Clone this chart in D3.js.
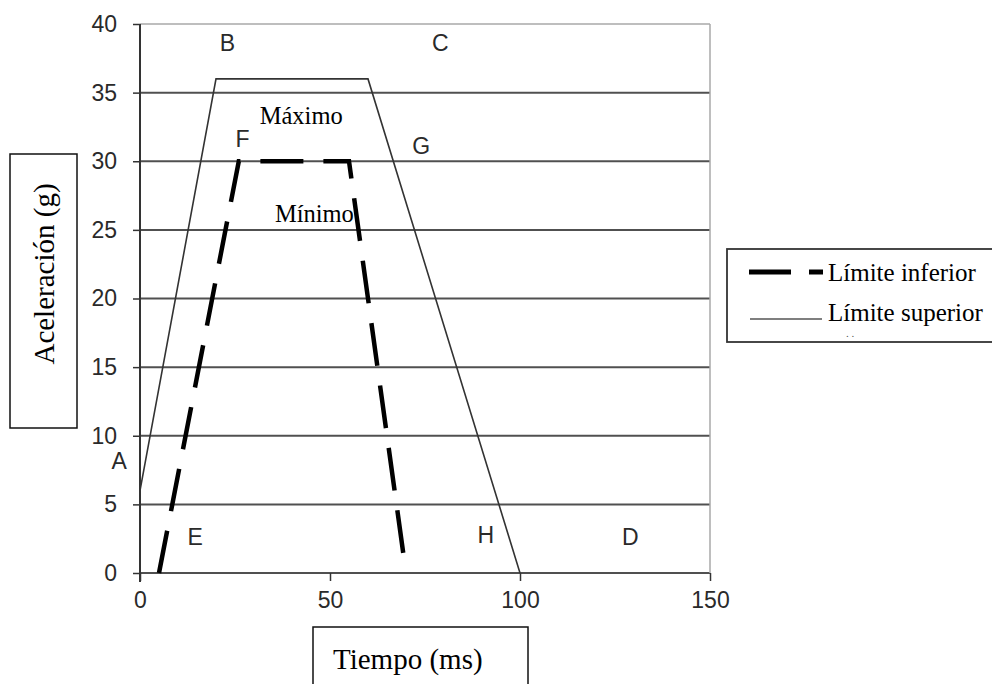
<!DOCTYPE html>
<html>
<head>
<meta charset="utf-8">
<script src="https://cdn.jsdelivr.net/npm/d3@7"></script>
<style>
  body { margin: 0; background: #fff; }
  svg { display: block; }
</style>
</head>
<body>
<div id="chart"></div>
<script>
// limits of the acceleration corridor (time in ms, acceleration in g)
const upperT = [0, 20, 60, 100];
const upperG = [6, 36, 36, 0];
const lowerT = [5, 26, 55, 69.5];
const lowerG = [0, 30, 30, 1];

const yTicks = [0, 5, 10, 15, 20, 25, 30, 35, 40];
const xTicks = [0, 50, 100, 150];

// corner letters
const pointNames = ["A", "B", "C", "D", "E", "F", "G", "H"];
const pointT = [-5.5, 23, 79, 129, 14.5, 27, 74, 91];
const pointG = [8, 38.5, 38.5, 2.5, 2.5, 31.5, 31, 2.6];

const W = 992, H = 684;
const margin = {top: 24, right: 282, bottom: 111, left: 140};

const svg = d3.select("#chart").append("svg")
  .attr("width", W)
  .attr("height", H);

const x = d3.scaleLinear().domain([0, 150]).range([margin.left, W - margin.right]);
const y = d3.scaleLinear().domain([0, 40]).range([H - margin.bottom, margin.top]);

const sans = "'Liberation Sans', Arial, sans-serif";
const serif = "'Liberation Serif', 'Times New Roman', serif";

// horizontal grid
svg.append("g")
  .selectAll("line")
  .data(yTicks)
  .enter().append("line")
    .attr("x1", x(0)).attr("x2", x(150))
    .attr("y1", d => y(d)).attr("y2", d => y(d))
    .attr("stroke", d => d == 40 ? "#a8a8a8" : "#505050")
    .attr("stroke-width", d => d == 40 ? 1.5 : 2);

// right border
svg.append("line")
  .attr("x1", x(150)).attr("x2", x(150))
  .attr("y1", y(40)).attr("y2", y(0))
  .attr("stroke", "#a8a8a8").attr("stroke-width", 1.5);

// y axis
const yAxis = svg.append("g")
  .attr("transform", "translate(" + x(0) + ",0)")
  .call(d3.axisLeft(y).tickValues(yTicks).tickSize(7).tickPadding(16));
yAxis.select(".domain").remove();
yAxis.selectAll("line").attr("stroke", "#333").attr("stroke-width", 1.5);
yAxis.selectAll("text")
  .style("font-family", sans)
  .style("font-size", "23px")
  .attr("fill", "#2a2a2a");

svg.append("line")
  .attr("x1", x(0)).attr("x2", x(0))
  .attr("y1", y(40)).attr("y2", y(0) + 9)
  .attr("stroke", "#333").attr("stroke-width", 2);

// x axis
const xAxis = svg.append("g")
  .attr("transform", "translate(0," + y(0) + ")")
  .call(d3.axisBottom(x).tickValues(xTicks).tickSize(8).tickPadding(11));
xAxis.select(".domain").remove();
xAxis.selectAll("line").attr("stroke", "#333").attr("stroke-width", 1.5);
xAxis.selectAll("text")
  .style("font-family", sans)
  .style("font-size", "23px")
  .attr("fill", "#2a2a2a");

const line = d3.line().x(d => x(d[0])).y(d => y(d[1]));

// upper limit
svg.append("path")
  .datum(d3.zip(upperT, upperG))
  .attr("d", line)
  .attr("fill", "none")
  .attr("stroke", "#333")
  .attr("stroke-width", 1.6);

// lower limit
svg.append("path")
  .datum(d3.zip(lowerT, lowerG))
  .attr("d", line)
  .attr("fill", "none")
  .attr("stroke", "#000")
  .attr("stroke-width", 4.5)
  .attr("stroke-dasharray", "43,20");

// letters
svg.append("g")
  .selectAll("text")
  .data(pointNames)
  .enter().append("text")
    .attr("x", (d, i) => x(pointT[i]))
    .attr("y", (d, i) => y(pointG[i]))
    .attr("text-anchor", "middle")
    .attr("dominant-baseline", "middle")
    .style("font-family", sans)
    .style("font-size", "23px")
    .attr("fill", "#2a2a2a")
    .text(d => d);

svg.append("text")
  .attr("x", x(31.5)).attr("y", y(32.7))
  .style("font-family", serif)
  .style("font-size", "24.5px")
  .text("Máximo");

svg.append("text")
  .attr("x", x(35.5)).attr("y", y(25.6))
  .style("font-family", serif)
  .style("font-size", "24.5px")
  .text("Mínimo");

// axis titles in boxes
svg.append("rect")
  .attr("x", 10).attr("y", 154).attr("width", 67).attr("height", 274)
  .attr("fill", "none").attr("stroke", "#111").attr("stroke-width", 1.5);
svg.append("text")
  .attr("transform", "translate(54,274) rotate(-90)")
  .attr("text-anchor", "middle")
  .style("font-family", serif)
  .style("font-size", "29px")
  .text("Aceleración (g)");

svg.append("rect")
  .attr("x", 313).attr("y", 627).attr("width", 215).attr("height", 80)
  .attr("fill", "none").attr("stroke", "#111").attr("stroke-width", 1.5);
svg.append("text")
  .attr("x", 333).attr("y", 669)
  .style("font-family", serif)
  .style("font-size", "29px")
  .text("Tiempo (ms)");

// legend
const legend = svg.append("g");
legend.append("rect")
  .attr("x", 727).attr("y", 249).attr("width", 280).attr("height", 93)
  .attr("fill", "none").attr("stroke", "#333").attr("stroke-width", 1.8);
legend.append("line")
  .attr("x1", 749).attr("x2", 823).attr("y1", 272).attr("y2", 272)
  .attr("stroke", "#000").attr("stroke-width", 5)
  .attr("stroke-dasharray", "42,18");
legend.append("text")
  .attr("x", 828).attr("y", 281)
  .style("font-family", serif)
  .style("font-size", "25px")
  .text("Límite inferior");
legend.append("line")
  .attr("x1", 750).attr("x2", 822).attr("y1", 319).attr("y2", 319)
  .attr("stroke", "#555").attr("stroke-width", 1.6);
legend.append("text")
  .attr("x", 828).attr("y", 321)
  .style("font-family", serif)
  .style("font-size", "25px")
  .text("Límite superior");
legend.append("text")
  .attr("x", 846).attr("y", 337)
  .style("font-family", serif)
  .style("font-size", "11px")
  .attr("fill", "#555")
  .text(". .");
</script>
</body>
</html>
